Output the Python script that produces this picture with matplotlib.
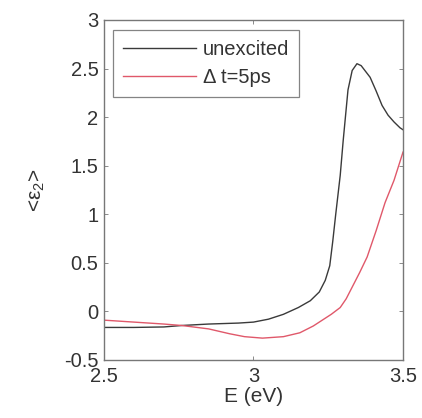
import matplotlib
matplotlib.use("Agg")
import matplotlib.pyplot as plt

plt.rcParams['font.family'] = ['Liberation Sans', 'DejaVu Sans']
plt.rcParams['mathtext.fontset'] = 'custom'
plt.rcParams['mathtext.rm'] = 'Liberation Sans'
plt.rcParams['mathtext.default'] = 'regular'

energy_unexcited = [2.5, 2.6, 2.7, 2.76, 2.85, 2.95, 3.0, 3.05, 3.10, 3.15, 3.19, 3.22, 3.24,
                    3.255, 3.265, 3.275, 3.29, 3.30, 3.316, 3.33, 3.346, 3.36, 3.39, 3.41,
                    3.43, 3.45, 3.47, 3.49, 3.5]
eps2_unexcited = [-0.165, -0.165, -0.16, -0.145, -0.13, -0.12, -0.11, -0.08, -0.03, 0.04, 0.11,
                  0.20, 0.32, 0.47, 0.72, 1.00, 1.40, 1.76, 2.28, 2.48, 2.55, 2.53, 2.41, 2.27,
                  2.12, 2.02, 1.95, 1.89, 1.87]

energy_5ps = [2.5, 2.6, 2.7, 2.76, 2.85, 2.92, 2.97, 3.03, 3.1, 3.155, 3.2, 3.23, 3.26, 3.29,
              3.31, 3.33, 3.355, 3.38, 3.41, 3.44, 3.47, 3.5]
eps2_5ps = [-0.09, -0.11, -0.13, -0.145, -0.18, -0.23, -0.26, -0.275, -0.26, -0.22, -0.15,
            -0.09, -0.03, 0.04, 0.13, 0.25, 0.40, 0.56, 0.83, 1.12, 1.35, 1.64]

labels = ['unexcited', '\u0394 t=5ps']
xticks = [2.5, 3, 3.5]
yticks = [-0.5, 0, 0.5, 1, 1.5, 2, 2.5, 3]

fig = plt.figure(figsize=(4.22, 4.18), dpi=100)
ax = fig.add_axes([0.2464, 0.1388, 0.7086, 0.8134])

ax.plot(energy_unexcited, eps2_unexcited, color='#3a3a3a', lw=1.0, label=labels[0])
ax.plot(energy_5ps, eps2_5ps, color='#e0586a', lw=1.0, label=labels[1])

ax.set_xlim(2.5, 3.5)
ax.set_ylim(-0.5, 3)
ax.set_xticks(xticks)
ax.set_xticklabels(['2.5', '3', '3.5'])
ax.set_yticks(yticks)
ax.set_yticklabels(['-0.5', '0', '0.5', '1', '1.5', '2', '2.5', '3'])
ax.tick_params(direction='in', top=True, right=True, length=3, width=0.6,
               color='#777777', labelsize=14.5, labelcolor='#333333')
ax.tick_params(axis='y', pad=4)
ax.tick_params(axis='x', pad=5)
for s in ax.spines.values():
    s.set_color('#777777')
    s.set_linewidth(1.0)

ax.set_xlabel('E (eV)', fontsize=15, color='#333333', labelpad=1)
ax.set_ylabel('<ε$_{2}$>', fontsize=15, color='#333333', labelpad=12)

leg = ax.legend(loc='upper left', bbox_to_anchor=(0.03, 0.97), fontsize=14.5,
                frameon=True, fancybox=False, handlelength=3.6, borderaxespad=0,
                handletextpad=0.35, labelspacing=0.42, borderpad=0.5)
leg.get_frame().set_edgecolor('#666666')
leg.get_frame().set_linewidth(0.9)
for t in leg.get_texts():
    t.set_color('#333333')

fig.savefig('out.png', dpi=100)
